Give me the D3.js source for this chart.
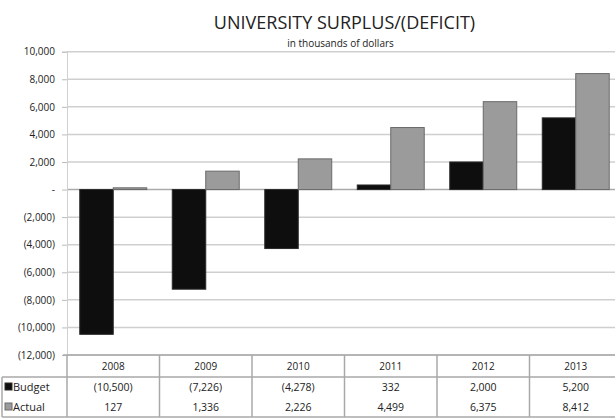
<!DOCTYPE html>
<html>
<head>
<meta charset="utf-8">
<script src="https://cdn.jsdelivr.net/npm/d3@7"></script>
<style>
  body { margin: 0; background: #fff; }
  svg text { font-family: "Open Sans", sans-serif; fill: #222; }
</style>
</head>
<body>
<div id="chart"></div>
<script>
// data, in thousands of dollars
var years = ['2008', '2009', '2010', '2011', '2012', '2013'];
var budget = [-10500, -7226, -4278, 332, 2000, 5200];
var actual = [127, 1336, 2226, 4499, 6375, 8412];
var seriesNames = ['Budget', 'Actual'];
var yTicks = [-12000, -10000, -8000, -6000, -4000, -2000, 0, 2000, 4000, 6000, 8000, 10000];

var width = 615, height = 419;
var plotLeft = 67, plotRight = 622, plotTop = 51.7, plotBottom = 355;
var rowHead = 22, rowH = 20;

var fillColor = { Budget: '#0e0e0e', Actual: '#9b9b9b' };
var strokeColor = { Budget: '#2a2a2a', Actual: '#6a6a6a' };

var fmt = function(v) {
    if (v === 0) return '-';
    var s = d3.format(',')(Math.abs(v));
    return v < 0 ? '(' + s + ')' : s;
};

var svg = d3.select('#chart').append('svg')
    .attr('width', width).attr('height', height);

var x = d3.scaleBand().domain(years).range([plotLeft, plotRight]).padding(0);
var bw = x.bandwidth();
var xSub = d3.scaleBand().domain(seriesNames).range([bw * 0.138, bw * 0.862]).padding(0);
var y = d3.scaleLinear().domain([-12000, 10000]).range([plotBottom, plotTop]);

// title
svg.append('text')
    .attr('x', (plotLeft + plotRight) / 2).attr('y', 29)
    .attr('text-anchor', 'middle')
    .style('font-size', '18px')
    .style('font-weight', 500)
    .text('UNIVERSITY SURPLUS/(DEFICIT)');
svg.append('text')
    .attr('x', (plotLeft + plotRight) / 2 - 4).attr('y', 47)
    .attr('text-anchor', 'middle')
    .style('font-size', '10px')
    .text('in thousands of dollars');

// gridlines
svg.append('g').selectAll('line').data(yTicks).enter().append('line')
    .attr('x1', plotLeft).attr('x2', plotRight)
    .attr('y1', function(d) { return y(d); })
    .attr('y2', function(d) { return y(d); })
    .attr('stroke', function(d) { return d === 0 ? '#aaa' : '#cfcfcf'; })
    .attr('stroke-width', 1.5);

// y axis
var yAxis = d3.axisLeft(y).tickValues(yTicks).tickFormat(fmt).tickSize(5).tickPadding(7);
var gy = svg.append('g').attr('transform', 'translate(' + plotLeft + ',0)').call(yAxis);
gy.select('.domain').attr('stroke', '#d0d0d0').attr('stroke-width', 1);
gy.selectAll('.tick line').attr('stroke', '#bbb');
gy.selectAll('.tick text').style('font-size', '10px').attr('fill', '#222');

// bars
var rows = years.map(function(yr, i) {
    return [{ year: yr, name: 'Budget', value: budget[i] }, { year: yr, name: 'Actual', value: actual[i] }];
});
var groups = svg.selectAll('g.year').data(rows).enter().append('g')
    .attr('class', 'year')
    .attr('transform', function(d) { return 'translate(' + x(d[0].year) + ',0)'; });
groups.selectAll('rect').data(function(d) { return d; }).enter().append('rect')
    .attr('x', function(d) { return xSub(d.name); })
    .attr('width', xSub.bandwidth())
    .attr('y', function(d) { return y(Math.max(0, d.value)); })
    .attr('height', function(d) { return Math.max(1, Math.abs(y(d.value) - y(0))); })
    .attr('fill', function(d) { return fillColor[d.name]; })
    .attr('stroke', function(d) { return strokeColor[d.name]; })
    .attr('stroke-width', 1);

// data table
var tTop = plotBottom, tMid = plotBottom + rowHead, tBot = tMid + 2 * rowH;
var tbl = svg.append('g');
var lineColor = '#a8a8a8';
tbl.append('line').attr('x1', plotLeft - 4).attr('x2', plotRight).attr('y1', tTop).attr('y2', tTop)
    .attr('stroke', lineColor).attr('stroke-width', 1.5);
tbl.append('line').attr('x1', 2).attr('x2', plotRight).attr('y1', tMid).attr('y2', tMid)
    .attr('stroke', lineColor).attr('stroke-width', 1.5);
tbl.append('line').attr('x1', 2).attr('x2', plotRight).attr('y1', tBot).attr('y2', tBot)
    .attr('stroke', lineColor).attr('stroke-width', 1.5);
tbl.append('line').attr('x1', 2).attr('x2', 2).attr('y1', tMid).attr('y2', tBot)
    .attr('stroke', lineColor).attr('stroke-width', 1.5);
tbl.selectAll('line.col').data(years).enter().append('line')
    .attr('class', 'col')
    .attr('x1', function(d) { return x(d); }).attr('x2', function(d) { return x(d); })
    .attr('y1', tTop).attr('y2', tBot)
    .attr('stroke', lineColor).attr('stroke-width', 1.5);

tbl.selectAll('text.year').data(years).enter().append('text')
    .attr('class', 'year')
    .attr('x', function(d) { return x(d) + bw / 2; })
    .attr('y', tTop + 15)
    .attr('text-anchor', 'middle')
    .style('font-size', '10px')
    .text(function(d) { return d; });

var series = [{ name: 'Budget', values: budget }, { name: 'Actual', values: actual }];
series.forEach(function(s, r) {
    var yy = tMid + rowH * r + 14;
    tbl.append('rect').attr('x', 5).attr('y', yy - 8).attr('width', 7).attr('height', 7)
        .attr('fill', fillColor[s.name]).attr('stroke', strokeColor[s.name]);
    tbl.append('text').attr('x', 13).attr('y', yy)
        .style('font-size', '11px').text(s.name);
    tbl.selectAll('text.v' + r).data(s.values).enter().append('text')
        .attr('class', 'v' + r)
        .attr('x', function(d, i) { return x(years[i]) + bw / 2; })
        .attr('y', yy)
        .attr('text-anchor', 'middle')
        .style('font-size', '10.5px')
        .text(fmt);
});
</script>
</body>
</html>
